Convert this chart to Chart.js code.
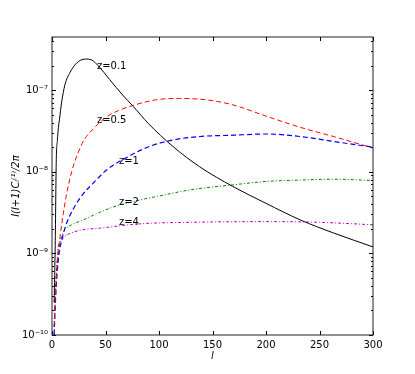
<!DOCTYPE html>
<html><head><meta charset="utf-8">
<script src="https://cdn.jsdelivr.net/npm/chart.js@4"></script>
<style>html,body{margin:0;padding:0;background:#fff}</style>
</head><body>
<canvas id="c" width="415" height="374"></canvas>
<script>
// ---- data ----
const xTicks = [0, 50, 100, 150, 200, 250, 300];
const yDecades = [1e-10, 1e-9, 1e-8, 1e-7];
const yLabels = ['10\u207B\u00B9\u2070', '10\u207B\u2079', '10\u207B\u2078', '10\u207B\u2077'];

const z01L = [2, 3, 4, 5, 6, 7, 9, 12, 17, 23, 31, 37, 43, 54, 66, 76, 90, 113, 138, 169, 200, 232, 263, 300];
const z01V = [2.5e-10, 1.26e-9, 1.4e-8, 2.4e-8, 3.5e-8, 4.4e-8, 7.1e-8, 1.15e-7, 1.66e-7, 2.14e-7, 2.4e-7, 2.34e-7, 2.0e-7, 1.34e-7, 8.7e-8, 6.3e-8, 3.9e-8, 2.04e-8, 1.15e-8, 6.6e-9, 4.1e-9, 2.57e-9, 1.78e-9, 1.2e-9];

const z05L = [2, 3, 4, 5, 7.5, 10.6, 13.7, 18.4, 24, 30, 40, 51, 62, 76, 97, 119, 144, 169, 200, 232, 263, 300];
const z05V = [1.26e-10, 2.8e-10, 5.0e-10, 8.3e-10, 1.6e-9, 3.1e-9, 5.4e-9, 1.0e-8, 1.66e-8, 2.45e-8, 3.5e-8, 4.7e-8, 5.6e-8, 6.5e-8, 7.6e-8, 7.9e-8, 7.6e-8, 6.6e-8, 4.8e-8, 3.5e-8, 2.7e-8, 1.95e-8];

const z1L = [2, 3, 4, 5.9, 7.5, 10.6, 13.7, 19.9, 29.3, 37, 51, 70, 91, 113, 138, 169, 200, 232, 263, 300];
const z1V = [1.0e-10, 2.2e-10, 4.0e-10, 8.3e-10, 1.17e-9, 1.74e-9, 2.35e-9, 3.5e-9, 5.4e-9, 6.9e-9, 1.05e-8, 1.5e-8, 2.04e-8, 2.45e-8, 2.7e-8, 2.8e-8, 2.9e-8, 2.7e-8, 2.35e-8, 2.0e-8];

const z2L = [2, 3, 5, 7, 10, 12, 18.4, 29.3, 45, 60, 82, 105, 129, 169, 200, 232, 263, 300];
const z2V = [1.26e-10, 3.2e-10, 7.9e-10, 1.26e-9, 1.74e-9, 1.95e-9, 2.24e-9, 2.57e-9, 3.2e-9, 3.8e-9, 4.5e-9, 5.2e-9, 6.0e-9, 6.9e-9, 7.6e-9, 7.9e-9, 8.1e-9, 7.8e-9];

const z4L = [2, 3, 4, 5.9, 9, 12, 20, 29, 45, 82, 129, 200, 250, 300];
const z4V = [1.0e-10, 2.5e-10, 5.0e-10, 1.2e-9, 1.45e-9, 1.62e-9, 1.82e-9, 1.95e-9, 2.04e-9, 2.3e-9, 2.4e-9, 2.45e-9, 2.4e-9, 2.24e-9];

const curveNames = ['z=0.1', 'z=0.5', 'z=1', 'z=2', 'z=4'];
const labelL = [42, 42, 62.6, 62.6, 62.6];
const labelV = [1.96e-7, 4.2e-8, 1.35e-8, 4.2e-9, 2.4e-9];

// ---- build ----
const yTicksAll = [];
yDecades.forEach(d => { for (let k = 1; k <= 9; k++) { const v = +(d * k).toPrecision(3); if (v <= 4.47e-7) yTicksAll.push(v); } });

const pts = (L, V) => L.map((l, i) => ({x: l, y: V[i]}));

const deco = {
  id: 'deco',
  afterDatasetsDraw(chart) {
    const {ctx, chartArea: a, scales: {x, y}} = chart;
    ctx.save();
    ctx.strokeStyle = '#000';
    ctx.lineWidth = 1;
    ctx.beginPath();
    xTicks.forEach(v => {
      const px = Math.round(x.getPixelForValue(v)) + 0.5;
      ctx.moveTo(px, a.bottom); ctx.lineTo(px, a.bottom - 4);
      ctx.moveTo(px, a.top); ctx.lineTo(px, a.top + 4);
    });
    yTicksAll.forEach(v => {
      const len = yDecades.includes(v) ? 4 : 2;
      const py = Math.round(y.getPixelForValue(v)) + 0.5;
      ctx.moveTo(a.left, py); ctx.lineTo(a.left + len, py);
      ctx.moveTo(a.right, py); ctx.lineTo(a.right - len, py);
    });
    ctx.stroke();
    ctx.strokeStyle = '#222';
    ctx.strokeRect(a.left, a.top, a.right - a.left, a.bottom - a.top);
    ctx.fillStyle = '#000';
    ctx.font = '10px "DejaVu Sans"';
    ctx.textBaseline = 'middle';
    ctx.textAlign = 'left';
    curveNames.forEach((t, i) => {
      ctx.fillText(t, x.getPixelForValue(labelL[i]), y.getPixelForValue(labelV[i]));
    });
    ctx.restore();
  }
};

const tickFont = {family: 'DejaVu Sans', size: 10};

new Chart(document.getElementById('c'), {
  type: 'line',
  data: {
    datasets: [
      {data: pts(z01L, z01V), borderColor: '#000000', borderWidth: 1},
      {data: pts(z05L, z05V), borderColor: '#ff0000', borderWidth: 1, borderDash: [5, 3]},
      {data: pts(z1L, z1V), borderColor: '#0000ff', borderWidth: 1.2, borderDash: [5, 3]},
      {data: pts(z2L, z2V), borderColor: '#008000', borderWidth: 1, borderDash: [3, 2, 1, 2]},
      {data: pts(z4L, z4V), borderColor: '#bf00bf', borderWidth: 1, borderDash: [3, 2, 1, 2]}
    ]
  },
  options: {
    responsive: false,
    animation: false,
    devicePixelRatio: 1,
    layout: {padding: {top: 37, right: 42, left: 0, bottom: 0}},
    plugins: {legend: {display: false}, tooltip: {enabled: false}},
    elements: {point: {radius: 0}, line: {tension: 0, cubicInterpolationMode: 'monotone', fill: false}},
    scales: {
      x: {
        type: 'linear', min: 0, max: 300,
        afterBuildTicks: s => { s.ticks = xTicks.map(v => ({value: v})); },
        grid: {display: false, drawTicks: false},
        border: {display: false},
        ticks: {padding: 4, font: tickFont, color: '#000', maxRotation: 0, autoSkip: false},
        title: {display: true, text: 'l', color: '#000', font: {family: 'DejaVu Sans', style: 'italic', size: 10}, padding: {top: 0, bottom: 12}},
        afterFit: s => { s.height = 39; }
      },
      y: {
        type: 'logarithmic', min: 1e-10, max: 4.47e-7, bounds: 'data',
        afterBuildTicks: s => { s.ticks = yTicksAll.map(v => ({value: v, major: yDecades.includes(v)})); },
        grid: {display: false, drawTicks: false},
        border: {display: false},
        ticks: {
          padding: 4, font: tickFont, color: '#000', autoSkip: false,
          callback: v => { const i = yDecades.indexOf(v); return i >= 0 ? yLabels[i] : ''; }
        },
        title: {display: true, text: 'l(l+1)C\u2097\u207D\u00B9\u207E/2\u03C0', color: '#000', font: {family: 'DejaVu Sans', style: 'italic', size: 10}, padding: {top: 10, bottom: 0}},
        afterFit: s => { s.width = 52; }
      }
    }
  },
  plugins: [deco]
});
</script>
</body></html>
